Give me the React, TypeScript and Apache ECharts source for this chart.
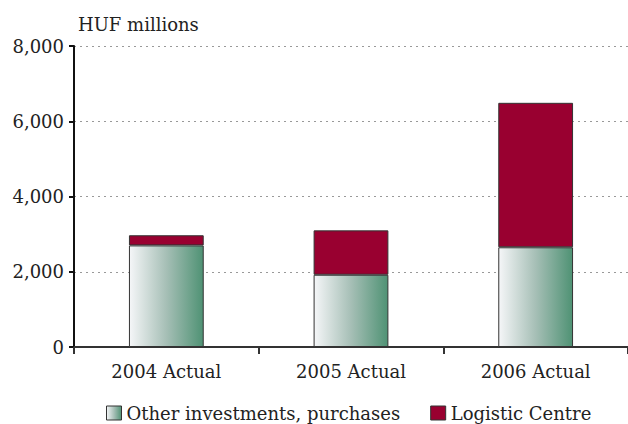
import React, { useEffect, useRef } from "react";
import * as echarts from "echarts";

const categories = ["2004 Actual", "2005 Actual", "2006 Actual"];
const otherInvestments = [2700, 1920, 2650];
const logisticCentre = [270, 1180, 3840];
const yTicks = [0, 2000, 4000, 6000, 8000];

const FONT = "'DejaVu Serif', 'Liberation Serif', serif";

export default function App() {
  const ref = useRef<HTMLDivElement>(null);
  useEffect(() => {
    if (!ref.current) return;
    const chart = echarts.init(ref.current, null, { renderer: "svg" });
    const grad = new echarts.graphic.LinearGradient(0, 0, 1, 0, [
      { offset: 0, color: "#f5f6f8" },
      { offset: 0.5, color: "#a6bfb6" },
      { offset: 1, color: "#4f9274" },
    ]);
    chart.setOption({
      animation: false,
      textStyle: { fontFamily: FONT },
      grid: { left: 74, right: 0, top: 46, bottom: 77, containLabel: false },
      graphic: [
        {
          type: "text",
          left: 78,
          top: 15,
          style: { text: "HUF millions", fontFamily: FONT, fontSize: 18, fill: "#222" },
        },
      ],
      legend: {
        top: 399,
        left: 101,
        itemWidth: 15,
        itemHeight: 14,
        itemGap: 30,
        icon: "rect",
        textStyle: { fontFamily: FONT, fontSize: 18, color: "#222" },
        data: [
          { name: "Other investments, purchases", itemStyle: { color: grad, borderColor: "#333", borderWidth: 1 } },
          { name: "Logistic Centre", itemStyle: { color: "#990030", borderColor: "#333", borderWidth: 1 } },
        ],
      },
      xAxis: {
        type: "category",
        data: categories,
        boundaryGap: true,
        axisLine: { lineStyle: { color: "#333", width: 2 } },
        axisTick: { show: true, length: 7, lineStyle: { color: "#333", width: 2 } },
        axisLabel: { fontFamily: FONT, fontSize: 18, color: "#222", margin: 15 },
      },
      yAxis: {
        type: "value",
        min: yTicks[0],
        max: yTicks[yTicks.length - 1],
        interval: 2000,
        axisLine: { show: true, lineStyle: { color: "#111", width: 2 } },
        axisTick: { show: true, length: 5, lineStyle: { color: "#111", width: 2 } },
        axisLabel: {
          fontFamily: FONT,
          fontSize: 18,
          color: "#222",
          margin: 10,
          formatter: (v: number) => v.toLocaleString("en-US"),
        },
        splitLine: { show: true, lineStyle: { color: "#999", type: [2, 4], width: 1 } },
      },
      series: [
        {
          name: "Other investments, purchases",
          type: "bar",
          stack: "total",
          data: otherInvestments,
          barWidth: "40.5%",
          itemStyle: { color: grad, borderColor: "#333", borderWidth: 1 },
        },
        {
          name: "Logistic Centre",
          type: "bar",
          stack: "total",
          data: logisticCentre,
          barWidth: "40.5%",
          itemStyle: { color: "#990030", borderColor: "#333", borderWidth: 1 },
        },
      ],
    });
    return () => chart.dispose();
  }, []);
  return <div ref={ref} style={{ width: 628, height: 424, position: "absolute", left: 0, top: 0 }} />;
}
